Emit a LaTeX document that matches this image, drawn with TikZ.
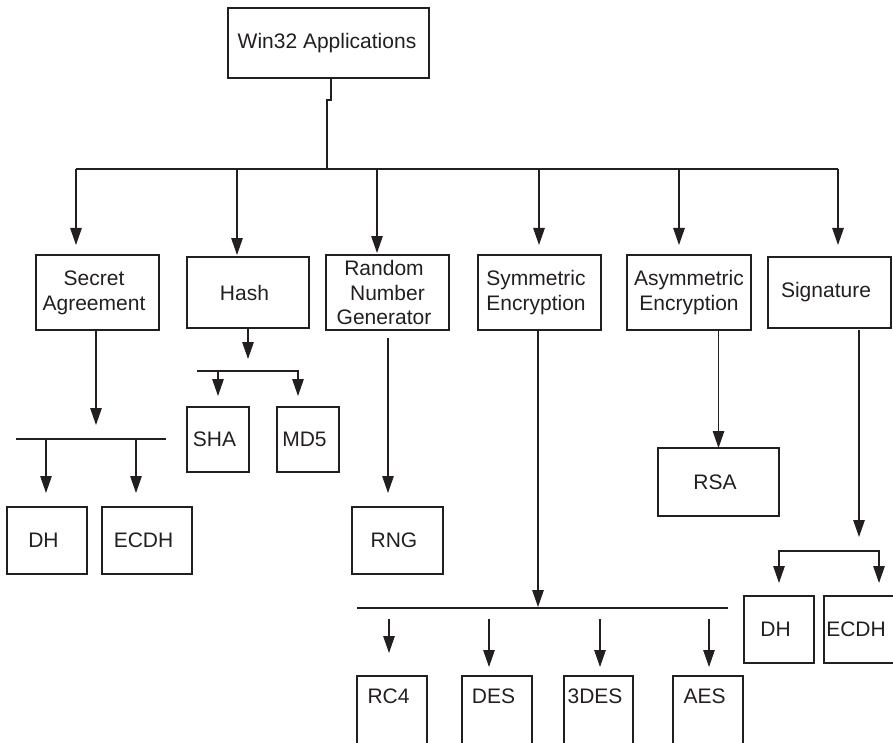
\documentclass[tikz,border=0pt]{standalone}
\usepackage{fontspec}
\setmainfont{Liberation Sans}
\usetikzlibrary{arrows.meta,calc}
\definecolor{ink}{RGB}{35,31,32}
% small trailing space so labels sit a little left of the box centre
\newcommand\sh{\hspace*{7pt}}

\begin{document}
\begin{tikzpicture}[x=1pt,y=-1pt,
  >={Triangle[length=17pt,width=11.5pt]},
  box/.style={draw=ink, line width=1.2pt, inner sep=0pt, outer sep=0pt,
    align=center, text=ink, font=\fontsize{21}{24.7}\selectfont},
  cutbox/.style={box, minimum height=84pt, text height=15pt, text depth=45pt},
  wire/.style={draw=ink, line width=1.2pt},
  arr/.style={wire, ->},
  barr/.style={wire, <->}
]
\useasboundingbox (0,0) rectangle (893,743);
\clip (0,0) rectangle (893,743);

% ---------- boxes ----------
\node[box, minimum width=201pt, minimum height=70pt] (win) at (328.5,43) {Win32 Applications\hspace*{3pt}};

\node[box, minimum width=123pt, minimum height=75pt] (sa)   at (97.5,292.5)  {Secret\sh\\Agreement\sh};
\node[box, minimum width=122pt, minimum height=71pt] (hash) at (248,292.5)   {Hash\sh};
\node[box, minimum width=123pt, minimum height=75pt] (rngg) at (387.5,292.5) {Random\sh\\Number\sh\\Generator\sh};
\node[box, minimum width=123pt, minimum height=75pt] (sym)  at (539.5,292.5) {Symmetric\sh\\Encryption\sh};
\node[box, minimum width=124pt, minimum height=75pt] (asym) at (689,292.5)   {Asymmetric\\Encryption};
\node[box, minimum width=123pt, minimum height=71pt] (sig)  at (829.5,292.5) {Signature\sh};

\node[box, minimum width=80pt, minimum height=67pt] (dhA)   at (47,540.5)  {DH\sh};
\node[box, minimum width=90pt, minimum height=67pt] (ecdhA) at (147,540.5) {ECDH\sh};

\node[box, minimum width=62pt, minimum height=65pt] (sha) at (218,439.5) {SHA\sh};
\node[box, minimum width=62pt, minimum height=65pt] (md5) at (308,439.5) {MD5\sh};

\node[box, minimum width=91pt, minimum height=67pt] (rng) at (397.5,540.5) {RNG\sh};
\node[box, minimum width=121pt, minimum height=68pt] (rsa) at (718.5,482) {RSA\sh};

\node[box, minimum width=70pt, minimum height=67pt] (dhB)   at (779,629.5)   {DH\sh};
\node[box, minimum width=71pt, minimum height=67pt] (ecdhB) at (859.5,629.5) {ECDH\sh};

\node[cutbox, minimum width=70pt] (rc4)  at (392,718)   {RC4\sh};
\node[cutbox, minimum width=70pt] (des)  at (497,718)   {DES\sh};
\node[cutbox, minimum width=69pt] (tdes) at (598.5,718) {3DES\sh};
\node[cutbox, minimum width=70pt] (aes)  at (708,718)   {AES\sh};

% ---------- top level fan-out ----------
\coordinate (hub)  at (327,169);
\coordinate (busL) at (76,169);
\coordinate (busR) at (838,169);
\draw[wire] ([xshift=2.5pt]win.south) -- ++(0,22) -- ++(-4,0) -- (hub);
\draw[wire] (busL) -- (busR);
\foreach \x/\t/\n in {76/245/sa, 237/255/hash, 377/253/rngg, 539/245/sym, 679/245/asym, 838/245/sig}{
  \coordinate (top-\n) at (\x,169);
  \coordinate (tip-\n) at (\x,\t);
  \draw[arr] (top-\n) -- (tip-\n);
}

% ---------- secret agreement ----------
\coordinate (saTip) at (96,425);
\draw[arr] (sa.south -| saTip) -- (saTip);
\coordinate (saBusL) at (16,439);
\coordinate (saBusR) at (166,439);
\draw[wire] (saBusL) -- (saBusR);
\coordinate (dhAtop) at (46,439);   \coordinate (dhAtip) at (46,493);
\coordinate (ecAtop) at (136,439);  \coordinate (ecAtip) at (136,493);
\draw[arr] (dhAtop) -- (dhAtip);
\draw[arr] (ecAtop) -- (ecAtip);

% ---------- hash ----------
\draw[arr] (hash.south) -- ++(0,31);
\coordinate (hBusL) at (197,371);
\coordinate (hBusR) at (298,371);
\coordinate (shaTop) at (218,371);
\coordinate (md5Tip) at (298,396);
\coordinate (shaTip) at (218,396);
\draw[arr] (hBusL) -- (hBusR) -- (md5Tip);
\draw[arr] (shaTop) -- (shaTip);

% ---------- random number generator ----------
\coordinate (rngTop) at (388,338);
\coordinate (rngTip) at (388,493);
\draw[arr] (rngTop) -- (rngTip);

% ---------- symmetric encryption ----------
\coordinate (symTip) at (538,607);
\draw[arr] (sym.south -| symTip) -- (symTip);
\coordinate (sBusL) at (357,608);
\coordinate (sBusR) at (728,608);
\draw[wire] (sBusL) -- (sBusR);
\foreach \x/\t/\n in {389/653/rc4, 489/667/des, 600/667/tdes, 709/667/aes}{
  \coordinate (top-\n) at (\x,619);
  \coordinate (tip-\n) at (\x,\t);
  \draw[arr] (top-\n) -- (tip-\n);
}

% ---------- asymmetric encryption ----------
\draw[arr] (asym.south -| rsa.north) -- (rsa.north);

% ---------- signature ----------
\coordinate (sigTip) at (859,537);
\draw[arr] ($(sig.south -| sigTip)+(0,2)$) -- (sigTip);
\coordinate (gL) at (779,551);
\coordinate (gR) at (879,551);
\coordinate (dhBtip) at (779,583);
\coordinate (ecBtip) at (879,583);
\draw[barr] (dhBtip) -- (gL) -- (gR) -- (ecBtip);
\end{tikzpicture}
\end{document}
